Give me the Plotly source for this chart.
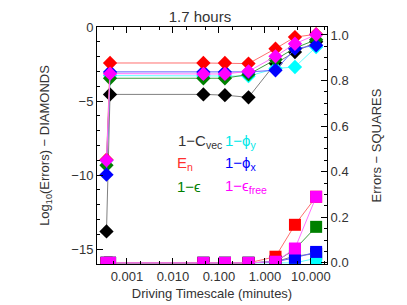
import plotly.graph_objects as go

# Driving timescale (minutes)
times = [0.00036, 0.00043, 0.046, 0.135, 0.44, 1.7, 4.5, 13.0]

# Log10 errors (diamonds, left axis)
d_cvec = [-13.8, -4.55, -4.55, -4.6, -4.75, -2.45, -1.69, -1.0]
d_en = [-8.96, -2.43, -2.43, -2.43, -2.47, -1.46, -0.68, -0.49]
d_eps = [-9.34, -3.46, -3.46, -3.46, -3.2, -2.2, -1.42, -0.86]
d_phix = [-9.97, -3.03, -3.03, -3.03, -3.03, -2.92, -1.46, -1.24]
d_phiy = [-9.0, -3.28, -3.3, -3.3, -3.32, -2.8, -2.7, -1.35]
d_free = [-9.0, -3.15, -3.17, -3.17, -2.99, -1.98, -1.13, -0.52]

# Errors (squares, right axis)
s_cvec = [0, 0, 0, 0, 0, 0.005, 0.03, 0.04]
s_en = [0, 0, 0, 0, 0, 0.027, 0.167, 0.29]
s_eps = [0, 0, 0, 0, 0, 0.005, 0.06, 0.158]
s_phix = [0, 0, 0, 0, 0, 0.005, 0.022, 0.048]
s_phiy = [0, 0, 0, 0, 0, 0.0, 0.0, 0.02]
s_free = [0, 0, 0, 0, 0, 0.005, 0.063, 0.29]

x_tickvals = [0.001, 0.01, 0.1, 1, 10]
x_ticktext = ["0.001", "0.010", "0.100", "1.000", "10.000"]
y_tickvals = [0, -5, -10, -15]
y2_tickvals = [0.0, 0.2, 0.4, 0.6, 0.8, 1.0]

series = [
    ("black", d_cvec, s_cvec, "#808080"),
    ("#00ffff", d_phiy, s_phiy, "#60ffff"),
    ("#008000", d_eps, s_eps, "#40a040"),
    ("#0000ff", d_phix, s_phix, "#6060ff"),
    ("#ff0000", d_en, s_en, "#ff7070"),
    ("#ff00ff", d_free, s_free, "#ff70ff"),
]

fig = go.Figure()
for col, d, s, lc in series:
    fig.add_trace(go.Scatter(x=times, y=d, mode="lines+markers",
                             line=dict(color=lc, width=1),
                             marker=dict(symbol="diamond", size=11, color=col,
                                         line=dict(width=0)),
                             yaxis="y", showlegend=False, hoverinfo="skip"))
for col, d, s, lc in series:
    fig.add_trace(go.Scatter(x=times, y=s, mode="lines+markers",
                             line=dict(color=lc, width=1),
                             marker=dict(symbol="square", size=12, color=col,
                                         line=dict(width=0)),
                             yaxis="y2", showlegend=False, hoverinfo="skip"))

font = "Liberation Sans, Arial, sans-serif"
txt = "#333333"
fig.update_layout(
    width=399, height=297,
    margin=dict(l=89, r=80, t=19, b=41, autoexpand=False),
    paper_bgcolor="white", plot_bgcolor="white",
    font=dict(family=font, size=13, color=txt),
    title=dict(text="1.7 hours", x=0.481, xanchor="center", y=0.97, yanchor="middle",
               font=dict(size=15, color=txt)),
    xaxis=dict(type="log", range=[-3.65, 1.35], automargin=False,
               tickvals=x_tickvals, ticktext=x_ticktext,
               ticks="inside", ticklen=6, tickcolor="black",
               showline=True, linecolor="black", linewidth=1, mirror="ticks",
               showgrid=False, zeroline=False,
               minor=dict(ticks="inside", ticklen=3, tickcolor="black", showgrid=False),
               title=dict(text="Driving Timescale (minutes)", standoff=6,
                          font=dict(size=13))),
    yaxis=dict(range=[-16, 0], automargin=False,
               tickvals=y_tickvals, ticktext=["0", "−5", "−10", "−15"],
               ticks="inside", ticklen=6, tickcolor="black",
               showline=True, linecolor="black", linewidth=1,
               showgrid=False, zeroline=False,
               minor=dict(dtick=1, ticks="inside", ticklen=3, tickcolor="black", showgrid=False),
               title=dict(text="Log<sub>10</sub>(Errors) − DIAMONDS", standoff=18,
                          font=dict(size=13))),
    yaxis2=dict(range=[-0.005, 1.035], overlaying="y", side="right", automargin=False,
                tickvals=y2_tickvals, ticktext=["0.0", "0.2", "0.4", "0.6", "0.8", "1.0"],
                ticks="inside", ticklen=6, tickcolor="black",
                showline=True, linecolor="black", linewidth=1,
                showgrid=False, zeroline=False,
                minor=dict(dtick=0.05, ticks="inside", ticklen=3, tickcolor="black", showgrid=False),
                title=dict(text="Errors − SQUARES", standoff=24, font=dict(size=13))),
)

labels = [
    ("1−C<sub>vec</sub>", "#333333", 0.343, 0.515),
    ("1−ϕ<sub>y</sub>", "#00e8e8", 0.548, 0.515),
    ("E<sub>n</sub>", "#ff3030", 0.339, 0.425),
    ("1−ϕ<sub>x</sub>", "#0000ff", 0.548, 0.425),
    ("1−ϵ", "#008000", 0.339, 0.325),
    ("1−ϵ<sub>free</sub>", "#ff00ff", 0.548, 0.325),
]
for t, c, x, y in labels:
    fig.add_annotation(text=t, x=x, y=y, xref="paper", yref="paper",
                       xanchor="left", yanchor="middle", showarrow=False,
                       font=dict(size=15, color=c, family=font))

fig.write_html("out.html")
